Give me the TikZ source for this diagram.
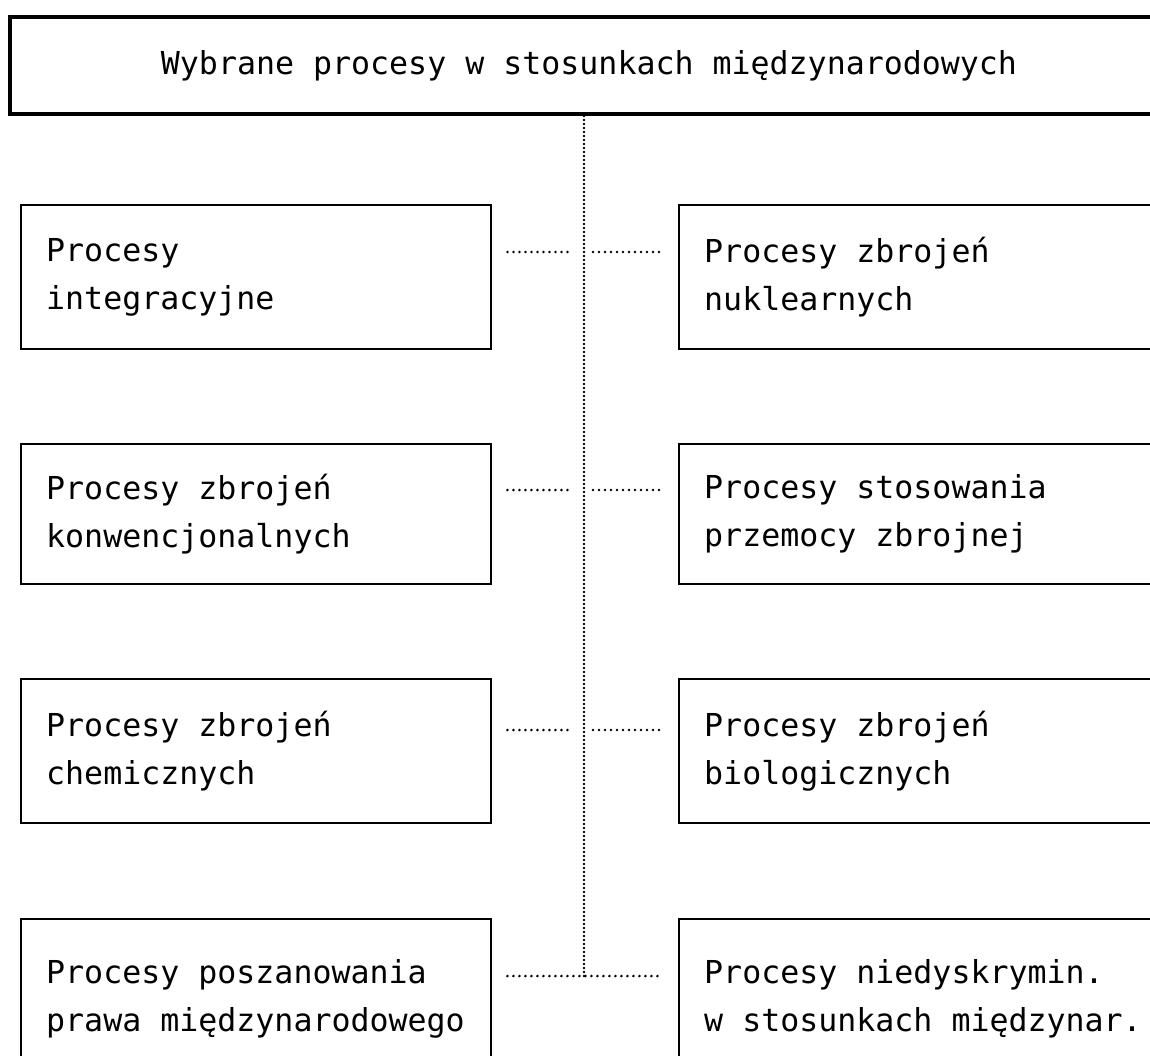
\documentclass[tikz,border=0pt]{standalone}
\usepackage{fontspec}
\newfontfamily\dotfont{DejaVu Sans Mono}[WordSpace={1,0,0}]
\usetikzlibrary{positioning,calc}

\begin{document}
\begin{tikzpicture}[
    x=0.5pt, y=-0.5pt,
    every node/.style={font=\dotfont\fontsize{15.8pt}{24pt}\selectfont},
    topbox/.style={draw,line width=2pt,anchor=north west,minimum width=579pt,
                   minimum height=48.5pt,inner sep=0pt},
    procbox/.style={draw,line width=1.2pt,anchor=north west,align=flush left,
                    text width=210pt,inner xsep=12.5pt},
    rprocbox/.style={procbox,text width=225pt},
    link/.style={line width=1.4pt,line cap=round,dash pattern=on 0pt off 3pt},
    spine/.style={line width=1.4pt,line cap=round,dash pattern=on 0pt off 2pt},
  ]
  \clip (0,0) rectangle (1150,1055);

  % heading
  \node[topbox] (title) at (8,15) {Wybrane procesy w stosunkach międzynarodowych};

  % left column
  \node[procbox,minimum height=72pt]   (l1) at (20,204) {Procesy\\integracyjne};
  \node[procbox,minimum height=70pt]   (l2) at (20,443) {Procesy zbrojeń\\konwencjonalnych};
  \node[procbox,minimum height=72pt]   (l3) at (20,678) {Procesy zbrojeń\\chemicznych};
  \node[procbox,minimum height=80pt]   (l4) at (20,918) {Procesy poszanowania\\prawa międzynarodowego};

  % right column (runs past the page edge)
  \node[rprocbox,minimum height=72pt]   (r1) at (678,204) {Procesy zbrojeń\\nuklearnych};
  \node[rprocbox,minimum height=70pt]   (r2) at (678,443) {Procesy stosowania\\przemocy zbrojnej};
  \node[rprocbox,minimum height=72pt]   (r3) at (678,678) {Procesy zbrojeń\\biologicznych};
  \node[rprocbox,minimum height=80pt]   (r4) at (678,918) {Procesy niedyskrymin.\\w stosunkach międzynar.};

  % junctions on the spine
  \coordinate (s1) at (584,252);
  \coordinate (s2) at (584,490);
  \coordinate (s3) at (584,730);
  \coordinate (s4) at (584,976);

  \draw[spine] (title.south -| s1) -- (s4);

  \foreach \r in {1,2,3} {
    \draw[link,shorten <=7.5pt,shorten >=6pt] (l\r.east |- s\r) -- (s\r);
    \draw[link,shorten <=4.5pt,shorten >=9pt] (s\r) -- (r\r.west |- s\r);
  }
  \draw[link,shorten <=7.5pt,shorten >=9pt] (l4.east |- s4) -- (r4.west |- s4);

\end{tikzpicture}
\end{document}
